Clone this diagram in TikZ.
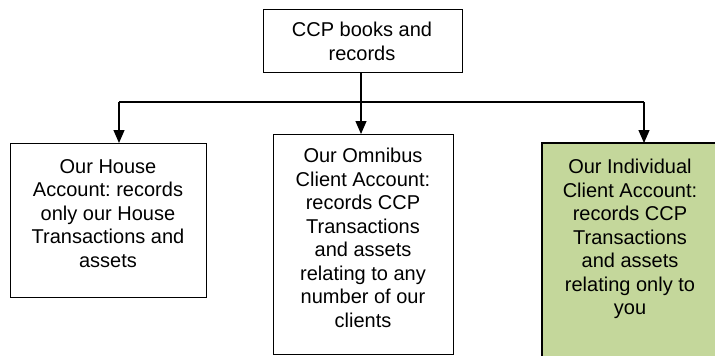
\documentclass[tikz,border=0pt]{standalone}
\usepackage{fontspec}
\setmainfont{Liberation Sans}
\usetikzlibrary{arrows.meta}
\definecolor{boxgreen}{HTML}{C4D79B}
\frenchspacing
\begin{document}
\begin{tikzpicture}[x=1pt,y=-1pt,
  box/.style={draw=black,line width=1.2pt,inner sep=0pt},
  label/.style={align=center,inner sep=0pt,anchor=north,
    font=\fontsize{20}{23.5}\selectfont},
  flow/.style={line width=1.2pt,-{Triangle[width=11pt,length=13pt]}}]
  \useasboundingbox (0,0) rectangle (715,356);

  % boxes
  \node[box,minimum width=199pt,minimum height=63pt,anchor=north west] (top) at (263,9) {};
  \node[box,minimum width=196pt,minimum height=154pt,anchor=north west] (house) at (10,143) {};
  \node[box,minimum width=180pt,minimum height=220pt,anchor=north west] (omni) at (273,134) {};
  \fill[boxgreen] (542,143) rectangle (716,357);
  \draw[line width=1.2pt] (716,143) -- (542,143) -- (542,357);
  \coordinate (indiv) at (644,143);

  % texts
  \node[label] (ttop) at (362,22) {CCP books and\\records};
  \node[label] (thouse) at (108,159) {Our House\\Account: records\\only our House\\Transactions and\\assets};
  \node[label] (tomni) at (363,148) {Our Omnibus\\Client Account:\\records CCP\\Transactions\\and assets\\relating to any\\number of our\\clients};
  \node[label] (tindiv) at (630,159) {Our Individual\\Client Account:\\records CCP\\Transactions\\and assets\\relating only to\\you};

  % connectors
  \coordinate (hl) at (119,102);
  \coordinate (hr) at (644,102);
  \draw[line width=1.2pt] (hl) -- (hr);
  \draw[flow] (top.south -| 361,0) -- (omni.north -| 361,0);
  \draw[flow] (hl) -- (house.north -| hl);
  \draw[flow] (hr) -- (indiv);
\end{tikzpicture}
\end{document}
